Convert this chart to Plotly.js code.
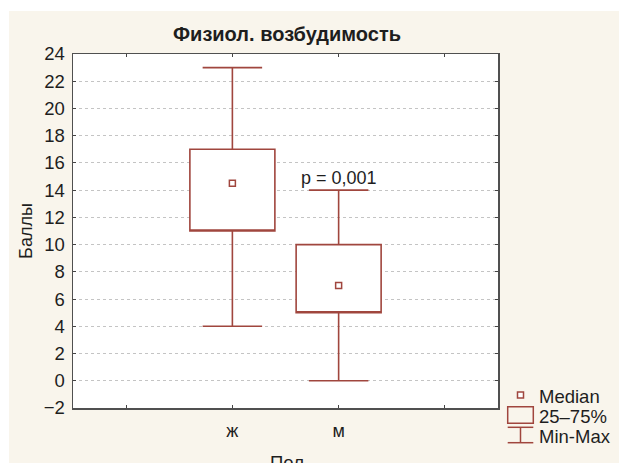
<!DOCTYPE html>
<html><head><meta charset="utf-8">
<script src="https://cdn.plot.ly/plotly-3.0.1.min.js"></script>
<style>
html,body{margin:0;padding:0;background:#ffffff;overflow:hidden;width:619px;height:463px}
#chart{position:absolute;left:9px;top:11px;width:610px;height:452px}
</style>
</head><body><div id="chart"></div>
<script>
// ---- data ----
const categories = ['ж', 'м'];
const catPos = [1, 2];
const mins = [4, 0];
const q1s = [11, 5];
const medians = [14.5, 7];
const q3s = [17, 10];
const maxs = [23, 14];
const yTickVals = [-2, 0, 2, 4, 6, 8, 10, 12, 14, 16, 18, 20, 22, 24];
const pLabel = 'p = 0,001';
const legendLabels = ['Median', '25–75%', 'Min-Max'];
const chartTitle = 'Физиол. возбудимость';
const xTitle = 'Пол';
const yTitle = 'Баллы';

// ---- style ----
const boxColor = '#a0463e';
const textColor = '#1e1e1e';
const cream = '#f9f5ec';
const FONT = 'Arial, "Liberation Sans", sans-serif';

// plot-area pixel frame (page coords) for legend placement helpers
const PL = 73, PR = 498, PT = 54, PB = 408;
const px = X => (X - PL) / (PR - PL);
const py = Y => (PB - Y) / (PB - PT);

const boxTrace = {
  type: 'box',
  x: catPos,
  q1: q1s,
  median: q1s,          // median is shown by the square marker trace instead
  q3: q3s,
  lowerfence: mins,
  upperfence: maxs,
  width: 0.8,
  whiskerwidth: 0.7,
  boxpoints: false,
  fillcolor: '#ffffff',
  line: {color: boxColor, width: 1.6},
  hoverinfo: 'skip',
  showlegend: false
};

const medTrace = {
  type: 'scatter',
  mode: 'markers',
  x: catPos,
  y: medians,
  marker: {symbol: 'square', size: 6, color: '#ffffff', line: {color: boxColor, width: 1.5}},
  hoverinfo: 'skip',
  showlegend: false
};

const shapes = [
  // legend: median symbol
  {type: 'rect', xref: 'paper', yref: 'paper', x0: px(517.5), x1: px(523.5), y0: py(398), y1: py(392),
   line: {color: boxColor, width: 1.5}, fillcolor: '#ffffff'},
  // legend: box symbol
  {type: 'rect', xref: 'paper', yref: 'paper', x0: px(507.7), x1: px(533.3), y0: py(423.3), y1: py(406.7),
   line: {color: boxColor, width: 1.5}, fillcolor: 'rgba(0,0,0,0)'},
  // legend: min-max symbol
  {type: 'line', xref: 'paper', yref: 'paper', x0: px(507.7), x1: px(533.3), y0: py(427.3), y1: py(427.3),
   line: {color: boxColor, width: 1.5}},
  {type: 'line', xref: 'paper', yref: 'paper', x0: px(520.5), x1: px(520.5), y0: py(427.3), y1: py(442.7),
   line: {color: boxColor, width: 1.5}},
  {type: 'line', xref: 'paper', yref: 'paper', x0: px(507.7), x1: px(533.3), y0: py(442.7), y1: py(442.7),
   line: {color: boxColor, width: 1.5}}
];

const legendY = [396, 416, 436];
const annotations = [
  {x: catPos[1], y: maxs[1], xref: 'x', yref: 'y', text: pLabel, showarrow: false,
   xanchor: 'center', yanchor: 'bottom', yshift: 0, font: {family: FONT, size: 18, color: textColor}},
  // x-axis title (placed as annotation so it can sit partly below the frame like the reference)
  {x: px(287), y: py(451), xref: 'paper', yref: 'paper', text: xTitle, showarrow: false,
   xanchor: 'center', yanchor: 'top', borderpad: 0, font: {family: FONT, size: 18.5, color: textColor}}
].concat(legendLabels.map((t, i) => ({
  x: px(538), y: py(legendY[i]), xref: 'paper', yref: 'paper', text: t, showarrow: false,
  xanchor: 'left', yanchor: 'middle', borderpad: 0, font: {family: FONT, size: 18.5, color: textColor}
})));

const layout = {
  width: 610, height: 452,
  margin: {l: 64, r: 121, t: 43, b: 55, pad: 0},
  paper_bgcolor: cream,
  plot_bgcolor: '#ffffff',
  font: {family: FONT, size: 18, color: textColor},
  title: {text: '<b>' + chartTitle + '</b>', font: {family: FONT, size: 20, color: textColor},
          x: px(287), xref: 'paper', xanchor: 'center', y: 1 - 23 / 452, yref: 'container', yanchor: 'middle'},
  xaxis: {
    range: [-0.5, 3.5],
    tickvals: [0, 1, 2, 3],
    ticktext: ['', categories[0], categories[1], ''],
    ticks: 'inside', ticklen: 3, tickwidth: 1, tickcolor: '#444',
    showline: true, linecolor: '#505050', linewidth: 1.5, mirror: 'ticks',
    showgrid: false, zeroline: false,
    ticklabelstandoff: 6,
    tickfont: {family: FONT, size: 18, color: textColor},
    automargin: false, fixedrange: true
  },
  yaxis: {
    range: [-2, 24],
    tickvals: yTickVals,
    ticks: 'inside', ticklen: 3, tickwidth: 1, tickcolor: '#444',
    showline: true, linecolor: '#505050', linewidth: 1.5, mirror: 'ticks',
    showgrid: true, gridcolor: '#c4c4c4', gridwidth: 1, griddash: 'dot',
    zeroline: false,
    ticklabelstandoff: 3,
    tickfont: {family: FONT, size: 18.5, color: textColor},
    title: {text: yTitle, font: {family: FONT, size: 18, color: textColor}, standoff: 6},
    automargin: false, fixedrange: true
  },
  shapes: shapes,
  annotations: annotations,
  showlegend: false
};

Plotly.newPlot('chart', [boxTrace, medTrace], layout, {displayModeBar: false, staticPlot: true});
</script>
</body></html>
